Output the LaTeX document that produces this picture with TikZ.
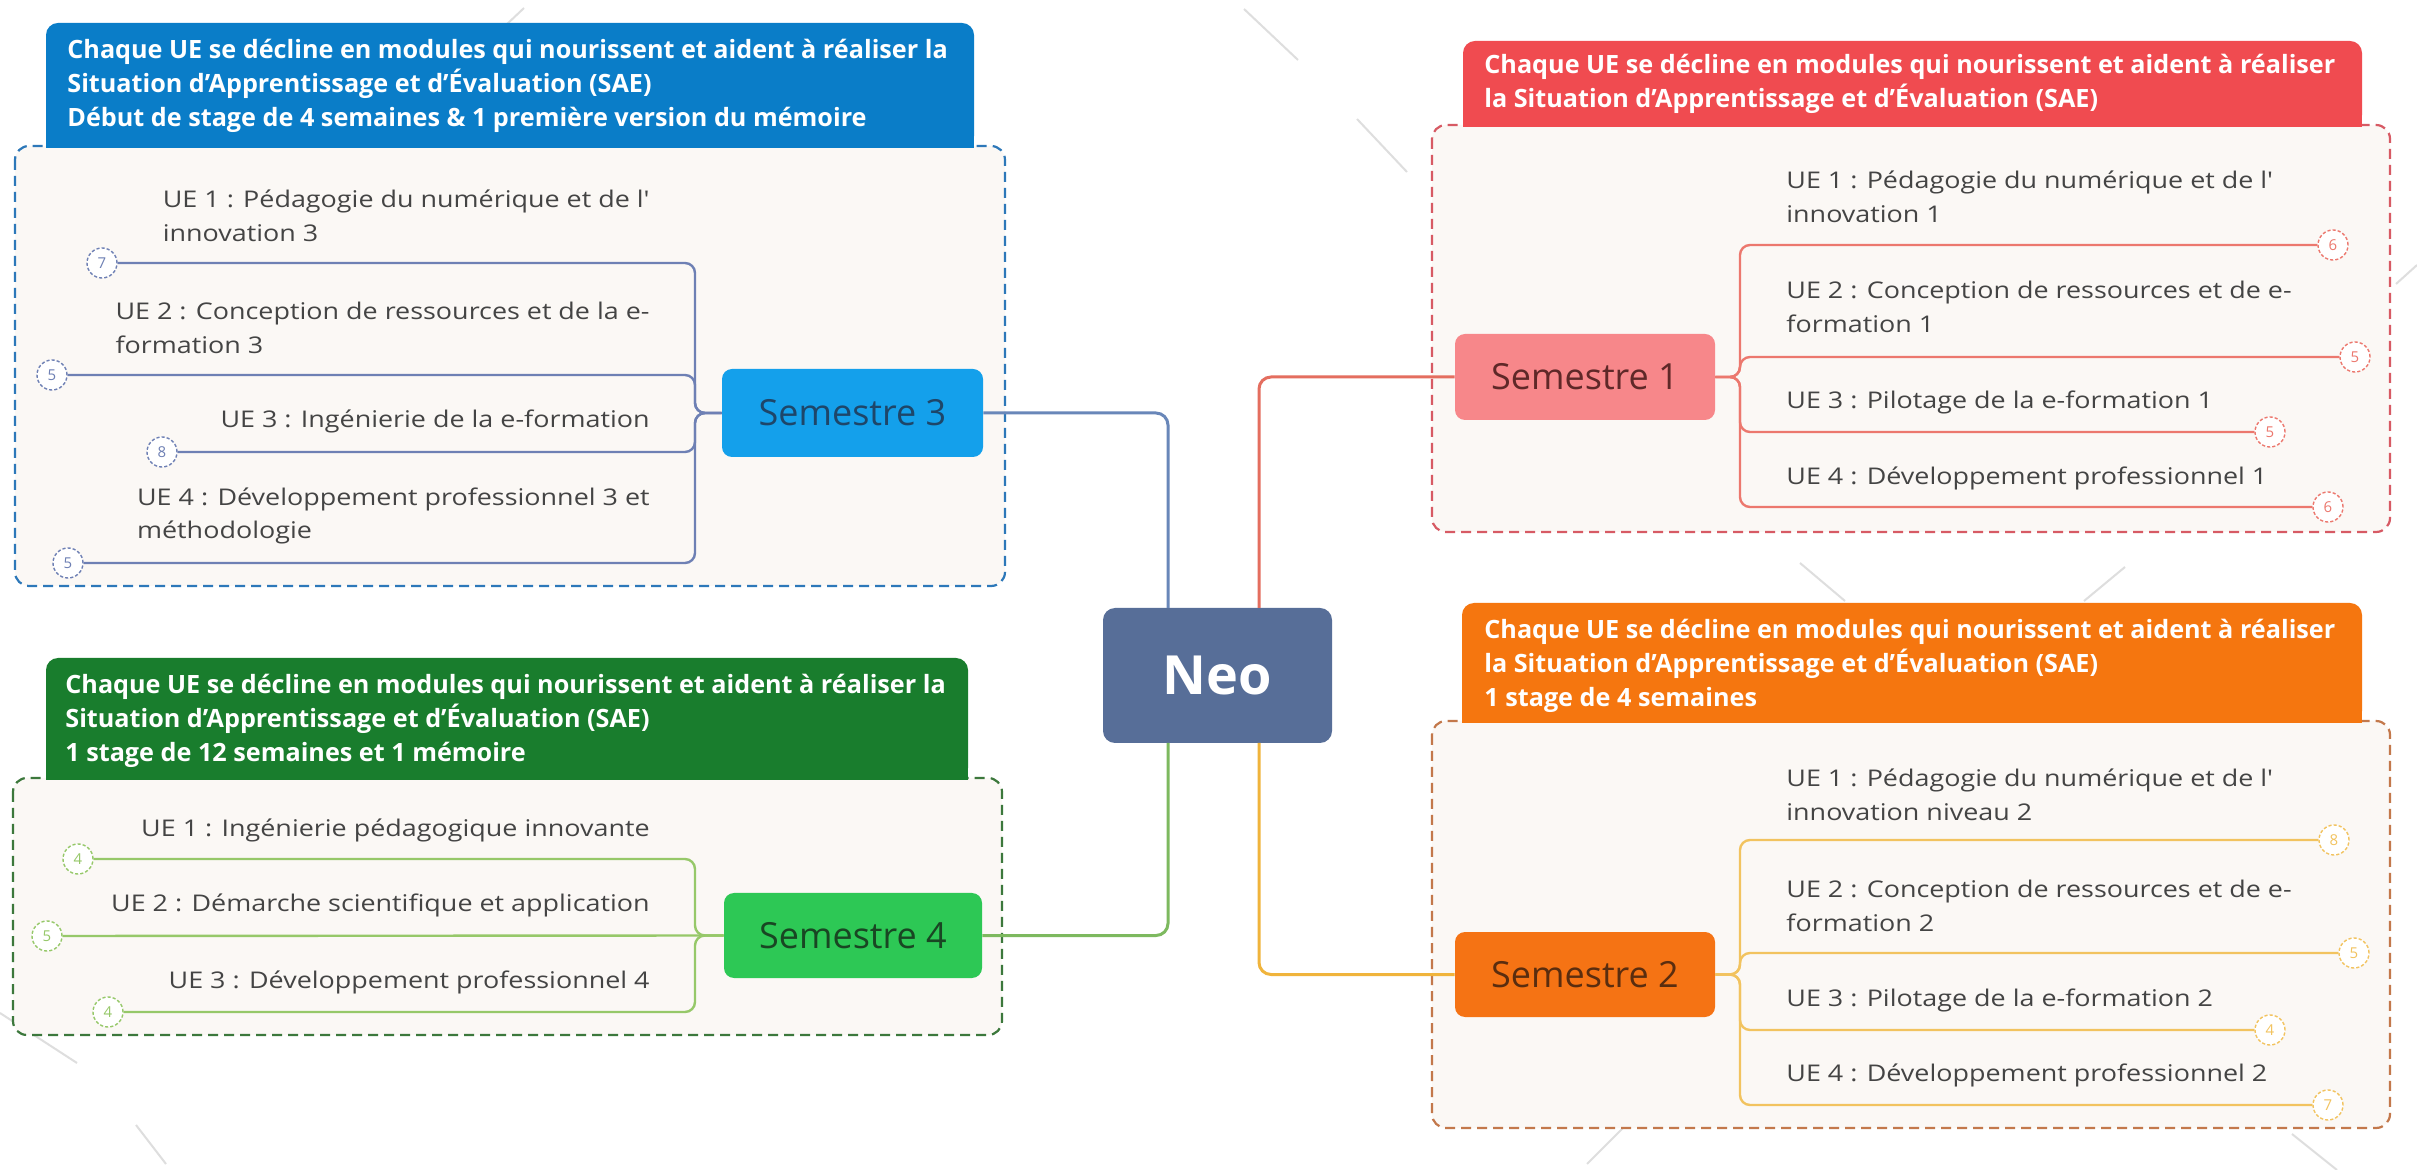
\documentclass[tikz,border=0pt]{standalone}
\usepackage{fontspec}
\setmainfont{Open Sans}
\newfontfamily\uefont{Open Sans}[FakeStretch=1.17]
\definecolor{boxfill}{RGB}{251,248,245}
\definecolor{txt}{RGB}{68,68,68}
\definecolor{wmc}{RGB}{222,222,222}
% blue (semestre 3)
\definecolor{bH}{RGB}{10,125,200}
\definecolor{bD}{RGB}{45,120,185}
\definecolor{bN}{RGB}{20,160,235}
\definecolor{bT}{RGB}{30,70,105}
\definecolor{bC}{RGB}{105,135,185}
\definecolor{bL}{RGB}{110,128,180}
% red (semestre 1)
\definecolor{rH}{RGB}{240,75,80}
\definecolor{rD}{RGB}{215,90,100}
\definecolor{rN}{RGB}{247,135,138}
\definecolor{rT}{RGB}{95,40,40}
\definecolor{rC}{RGB}{228,110,95}
\definecolor{rL}{RGB}{236,120,110}
% orange (semestre 2)
\definecolor{oH}{RGB}{245,118,15}
\definecolor{oD}{RGB}{195,120,75}
\definecolor{oN}{RGB}{245,115,20}
\definecolor{oT}{RGB}{90,45,15}
\definecolor{oC}{RGB}{240,180,60}
\definecolor{oL}{RGB}{242,195,95}
% green (semestre 4)
\definecolor{gH}{RGB}{25,125,45}
\definecolor{gD}{RGB}{60,120,60}
\definecolor{gN}{RGB}{45,200,85}
\definecolor{gT}{RGB}{25,70,35}
\definecolor{gC}{RGB}{125,185,95}
\definecolor{gL}{RGB}{150,200,105}
\definecolor{neoC}{RGB}{87,110,152}
\begin{document}
\begin{tikzpicture}[x=0.5pt,y=-0.5pt,
  uetxt/.style={font=\uefont\fontsize{11.5}{16.75}\selectfont, text=txt, inner sep=0pt, align=left},
  hdtxt/.style={font=\bfseries\fontsize{12.6}{17}\selectfont, text=white, inner sep=0pt, align=left},
  semnode/.style={rounded corners=5pt, minimum width=130pt, minimum height=43pt, inner sep=0pt, font=\fontsize{18}{20}\selectfont},
  neonode/.style={rounded corners=6pt, fill=neoC, text=white, minimum width=114.5pt, minimum height=67.5pt, inner sep=0pt, font=\bfseries\fontsize{27}{30}\selectfont},
  numc/.style={circle, draw, fill=white, dash pattern=on 1.6pt off 1pt, line width=0.7pt, minimum size=15pt, inner sep=0pt, font=\fontsize{7.5}{8}\selectfont},
  grpbox/.style={fill=boxfill, dash pattern=on 5pt off 3pt, line width=1.1pt, rounded corners=7pt},
  conn/.style={line width=1.5pt, rounded corners=6pt},
  brl/.style={line width=1.2pt, rounded corners=5pt},
  wm/.style={draw=wmc, line width=1pt}
]
\useasboundingbox (0,0) rectangle (2417,1170);
\fill[white] (0,0) rectangle (2417,1170);

% faint watermark strokes
\foreach \a/\b/\c/\d in {1244/9/1298/60, 1357/119/1407/172, 1465/231/1520/284, 1687/451/1741/507, 1800/563/1845/601, 2125/567/2084/601, 2238/455/2184/507, 2346/366/2292/396, 2417/265/2396/284, 1696/1060/1750/1007, 2066/903/2120/948, 2292/1134/2337/1170, 1587/1164/1632/1119, 524/8/505/26, 380/143/352/175, 281/264/246/291, 177/355/133/397, 75/455/23/507, 0/1013/77/1063, 136/1125/166/1164}
  \draw[wm] (\a,\b) -- (\c,\d);

% ---------- group boxes and headers ----------
% Semestre 3 (blue)
\draw[grpbox, draw=bD] (15,146) rectangle (1005,586);
\fill[bH, rounded corners=6pt] (46,23) rectangle (974,148);
\fill[bH] (46,90) rectangle (974,148);
\node[hdtxt, anchor=west] (h3) at (67,86) {Chaque UE se décline en modules qui nourissent et aident à réaliser la\\Situation d'Apprentissage et d'Évaluation (SAE)\\Début de stage de 4 semaines \& 1 première version du mémoire};

% Semestre 1 (red)
\draw[grpbox, draw=rD] (1432,125) rectangle (2390,532);
\fill[rH, rounded corners=6pt] (1463,41) rectangle (2362,127);
\fill[rH] (1463,90) rectangle (2362,127);
\node[hdtxt, anchor=west] (h1) at (1484,84) {Chaque UE se décline en modules qui nourissent et aident à réaliser\\la Situation d'Apprentissage et d'Évaluation (SAE)};

% Semestre 2 (orange)
\draw[grpbox, draw=oD] (1432,721) rectangle (2390,1128);
\fill[oH, rounded corners=6pt] (1462,603) rectangle (2362,723);
\fill[oH] (1462,660) rectangle (2362,723);
\node[hdtxt, anchor=west] (h2) at (1484,666) {Chaque UE se décline en modules qui nourissent et aident à réaliser\\la Situation d'Apprentissage et d'Évaluation (SAE)\\1 stage de 4 semaines};

% Semestre 4 (green)
\draw[grpbox, draw=gD] (13,778) rectangle (1002,1035);
\fill[gH, rounded corners=6pt] (46,658) rectangle (968,780);
\fill[gH] (46,720) rectangle (968,780);
\node[hdtxt, anchor=west] (h4) at (65,721) {Chaque UE se décline en modules qui nourissent et aident à réaliser la\\Situation d'Apprentissage et d'Évaluation (SAE)\\1 stage de 12 semaines et 1 mémoire};

% ---------- main nodes ----------
\node[neonode] (neo) at (1217.5,675.5) {Neo};
\node[semnode, fill=bN, text=bT, minimum width=130.5pt, minimum height=44pt] (sem3) at (852.5,413) {Semestre 3};
\node[semnode, fill=rN, text=rT] (sem1) at (1585,377) {Semestre 1};
\node[semnode, fill=oN, text=oT, minimum height=42.5pt] (sem2) at (1585,974.5) {Semestre 2};
\node[semnode, fill=gN, text=gT, minimum width=129pt, minimum height=42.5pt] (sem4) at (853,935.5) {Semestre 4};

\coordinate (n3) at (1168,608);
\coordinate (n1) at (1259,608);
\coordinate (n2) at (1259,743);
\coordinate (n4) at (1168,743);
\draw[conn, draw=bC] (sem3.east) -| (n3);
\draw[conn, draw=rC] (n1) |- (sem1.west);
\draw[conn, draw=oC] (n2) |- (sem2.west);
\draw[conn, draw=gC] (n4) |- (sem4.east);

% ---------- Semestre 3 branches ----------
\node[numc, draw=bL, text=bL] (c31) at (102,263) {7};
\node[numc, draw=bL, text=bL] (c32) at (52,375) {5};
\node[numc, draw=bL, text=bL] (c33) at (162,452) {8};
\node[numc, draw=bL, text=bL] (c34) at (68,563) {5};
\coordinate (s3) at (695,413);
\draw[brl, draw=bL] (sem3.west) -- (s3) |- (c31);
\draw[brl, draw=bL] (sem3.west) -- (s3) |- (c32);
\draw[brl, draw=bL] (sem3.west) -- (s3) |- (c33);
\draw[brl, draw=bL] (sem3.west) -- (s3) |- (c34);
\node[uetxt, anchor=east] (t31) at (650,216) {UE 1 : Pédagogie du numérique et de l'\\innovation 3};
\node[uetxt, anchor=east] (t32) at (650,328) {UE 2 : Conception de ressources et de la e-\\formation 3};
\node[uetxt, anchor=east] (t33) at (650,421) {UE 3 : Ingénierie de la e-formation};
\node[uetxt, anchor=east] (t34) at (650,516) {UE 4 : Développement professionnel 3 et\\méthodologie};

% ---------- Semestre 1 branches ----------
\node[numc, draw=rL, text=rL] (c11) at (2333,245) {6};
\node[numc, draw=rL, text=rL] (c12) at (2355,357) {5};
\node[numc, draw=rL, text=rL] (c13) at (2270,432) {5};
\node[numc, draw=rL, text=rL] (c14) at (2328,507) {6};
\coordinate (s1) at (1740,377);
\draw[brl, draw=rL] (sem1.east) -- (s1) |- (c11);
\draw[brl, draw=rL] (sem1.east) -- (s1) |- (c12);
\draw[brl, draw=rL] (sem1.east) -- (s1) |- (c13);
\draw[brl, draw=rL] (sem1.east) -- (s1) |- (c14);
\node[uetxt, anchor=west] (t11) at (1786,197) {UE 1 : Pédagogie du numérique et de l'\\innovation 1};
\node[uetxt, anchor=west] (t12) at (1786,307) {UE 2 : Conception de ressources et de e-\\formation 1};
\node[uetxt, anchor=west] (t13) at (1786,402) {UE 3 : Pilotage de la e-formation 1};
\node[uetxt, anchor=west] (t14) at (1786,478) {UE 4 : Développement professionnel 1};

% ---------- Semestre 2 branches ----------
\node[numc, draw=oL, text=oL] (c21) at (2334,840) {8};
\node[numc, draw=oL, text=oL] (c22) at (2354,953) {5};
\node[numc, draw=oL, text=oL] (c23) at (2270,1030) {4};
\node[numc, draw=oL, text=oL] (c24) at (2328,1105) {7};
\coordinate (s2) at (1740,974.5);
\draw[brl, draw=oL] (sem2.east) -- (s2) |- (c21);
\draw[brl, draw=oL] (sem2.east) -- (s2) |- (c22);
\draw[brl, draw=oL] (sem2.east) -- (s2) |- (c23);
\draw[brl, draw=oL] (sem2.east) -- (s2) |- (c24);
\node[uetxt, anchor=west] (t21) at (1786,795) {UE 1 : Pédagogie du numérique et de l'\\innovation niveau 2};
\node[uetxt, anchor=west] (t22) at (1786,906) {UE 2 : Conception de ressources et de e-\\formation 2};
\node[uetxt, anchor=west] (t23) at (1786,1000) {UE 3 : Pilotage de la e-formation 2};
\node[uetxt, anchor=west] (t24) at (1786,1075) {UE 4 : Développement professionnel 2};

% ---------- Semestre 4 branches ----------
\node[numc, draw=gL, text=gL] (c41) at (78,859) {4};
\node[numc, draw=gL, text=gL] (c42) at (47,936) {5};
\node[numc, draw=gL, text=gL] (c43) at (108,1012) {4};
\coordinate (s4) at (695,935.5);
\draw[brl, draw=gL] (sem4.west) -- (s4) |- (c41);
\draw[brl, draw=gL] (sem4.west) -- (c42);
\draw[brl, draw=gL] (sem4.west) -- (s4) |- (c43);
\node[uetxt, anchor=east] (t41) at (650,830) {UE 1 : Ingénierie pédagogique innovante};
\node[uetxt, anchor=east] (t42) at (650,905) {UE 2 : Démarche scientifique et application};
\node[uetxt, anchor=east] (t43) at (650,982) {UE 3 : Développement professionnel 4};
\end{tikzpicture}
\end{document}
